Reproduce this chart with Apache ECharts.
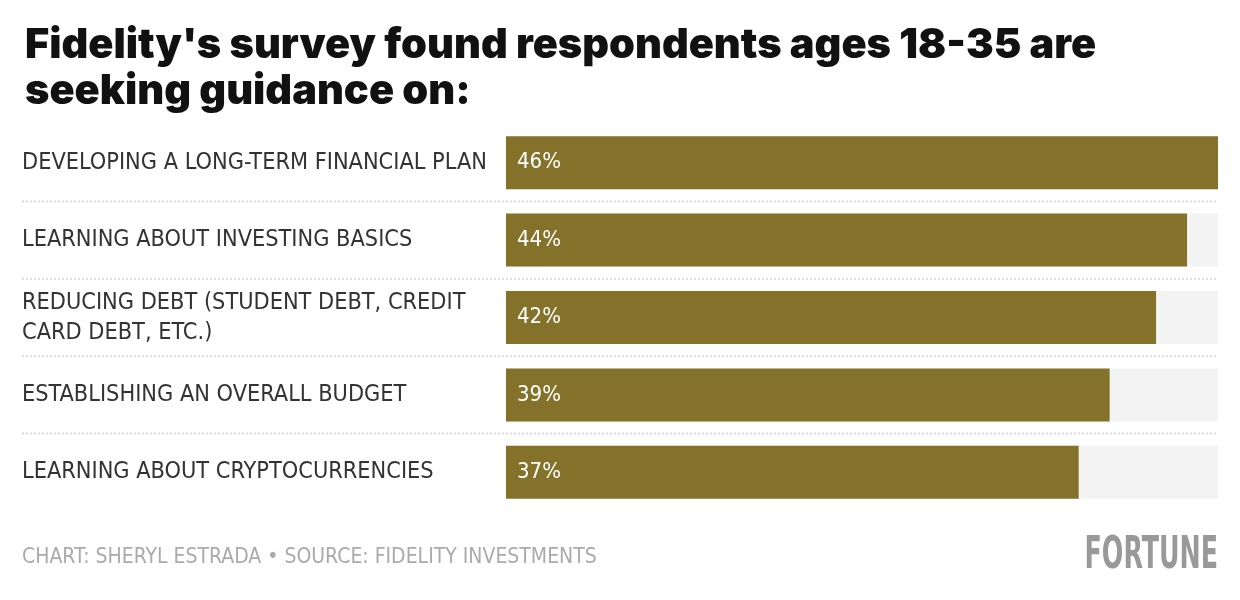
<!DOCTYPE html>
<html><head><meta charset="utf-8">
<script src="https://cdn.jsdelivr.net/npm/echarts@6/dist/echarts.min.js"></script>
<style>html,body{margin:0;padding:0;background:#fff}#c{width:1240px;height:600px}</style>
</head><body><div id="c"></div>
<script>
const categories = [
  "DEVELOPING A LONG-TERM FINANCIAL PLAN",
  "LEARNING ABOUT INVESTING BASICS",
  "REDUCING DEBT (STUDENT DEBT, CREDIT\nCARD DEBT, ETC.)",
  "ESTABLISHING AN OVERALL BUDGET",
  "LEARNING ABOUT CRYPTOCURRENCIES"
];
const values = [46, 44, 42, 39, 37];
const titleText = "Fidelity's survey found respondents ages 18-35 are\nseeking guidance on:";
const footerText = "CHART: SHERYL ESTRADA \u2022 SOURCE: FIDELITY INVESTMENTS";
const brandText = "FORTUNE";

const narrow = "'Liberation Sans Narrow', 'DejaVu Sans Condensed', 'Roboto', sans-serif";
const chart = echarts.init(document.getElementById('c'));
const GL = 506, GR = 22, GT = 124, GB = 89;
chart.setOption({
  animation: false,
  title: {
    text: titleText, left: 20, top: 18,
    textStyle: {fontFamily: "Inter, Roboto, sans-serif", fontWeight: 900, fontSize: 41.5, color: '#111', lineHeight: 46}
  },
  grid: {left: GL, right: GR, top: GT, bottom: GB},
  xAxis: {type: 'value', min: 0, max: 46, show: false},
  yAxis: {
    type: 'category', data: categories, inverse: true,
    axisLine: {show: false}, axisTick: {show: false}, splitLine: {show: false},
    axisLabel: {align: 'left', margin: GL - 22, color: '#333', fontSize: 23.3, lineHeight: 30, fontFamily: narrow}
  },
  series: [{
    type: 'bar', data: values, barWidth: 53,
    itemStyle: {color: '#85722a'},
    showBackground: true, backgroundStyle: {color: '#f3f3f3'},
    label: {show: true, position: 'insideLeft', distance: 11, formatter: '{c}%', color: '#fff', fontSize: 22, fontFamily: narrow}
  }]
});
// separators between rows, placed via the axis scale
const seps = [];
for (let i = 0; i < categories.length - 1; i++) {
  const y = (chart.convertToPixel({yAxisIndex: 0}, i) + chart.convertToPixel({yAxisIndex: 0}, i + 1)) / 2;
  seps.push({type: 'line', shape: {x1: 22, y1: y, x2: 1240 - GR, y2: y},
    style: {stroke: '#dcdcdc', lineWidth: 2, lineDash: [2, 2]}});
}
seps.push({type: 'text', x: 22, y: 558, style: {text: footerText, fill: '#aaa', fontSize: 21, fontFamily: narrow, textVerticalAlign: 'middle'}});
seps.push({type: 'text', x: 1218, y: 557, scaleX: 0.64, style: {text: brandText, fill: '#999', fontSize: 44, fontWeight: 'bold', fontFamily: narrow, textAlign: 'right', textVerticalAlign: 'middle'}});
chart.setOption({graphic: seps});
</script></body></html>
